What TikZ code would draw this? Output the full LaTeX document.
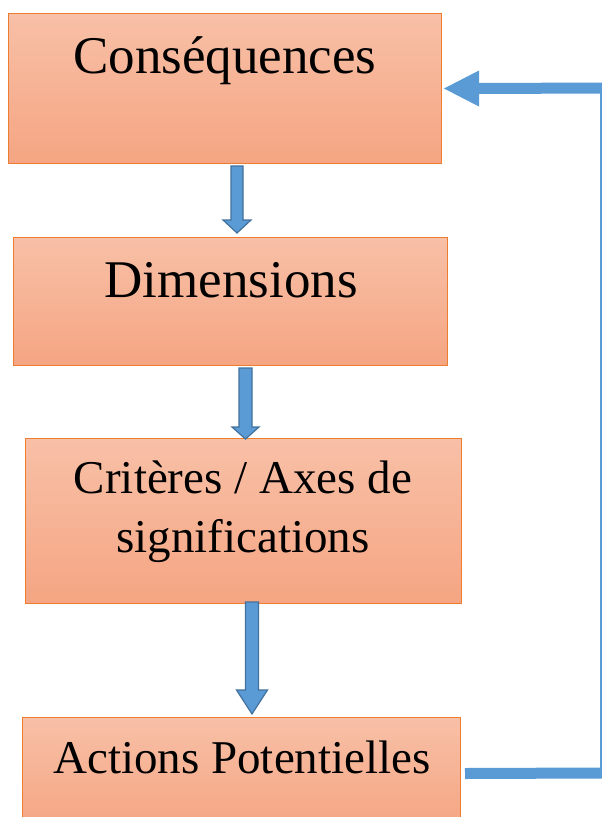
\documentclass[tikz,border=0pt]{standalone}
\usepackage{fontspec}
\setmainfont{Liberation Serif}
\usetikzlibrary{calc}
\definecolor{boxline}{RGB}{237,125,49}
\definecolor{boxtop}{RGB}{248,192,167}
\definecolor{boxbot}{RGB}{245,165,130}
\definecolor{arrfill}{RGB}{91,155,213}
\definecolor{arrline}{RGB}{65,113,156}
\tikzset{
  box/.style={draw=boxline, line width=1pt, top color=boxtop, bottom color=boxbot,
    rectangle, anchor=north west, inner sep=0pt},
  bigtext/.style={font=\fontsize{53}{60}\selectfont, inner sep=0pt, anchor=base},
  midtext/.style={font=\fontsize{47}{59}\selectfont, inner sep=0pt, anchor=base, align=center},
  barrow/.style={fill=arrfill, draw=arrline, line width=1.2pt, line join=miter},
  fbline/.style={draw=arrfill, line width=11pt},
  fbthin/.style={draw=arrfill, line width=1.6pt},
}
\newcommand\blockarrow[5]{%
  \draw[barrow] let \p1=(#1), \p2=(#2) in
    (\x1-#3,\y1) -- (\x1+#3,\y1) -- (\x1+#3,\y2+#5) -- (\x1+#4,\y2+#5)
    -- (\x2,\y2) -- (\x1-#4,\y2+#5) -- (\x1-#3,\y2+#5) -- cycle;}
\begin{document}
\begin{tikzpicture}[x=1pt,y=-1pt]
\clip (0,0) rectangle (602,817);
\fill[white] (0,0) rectangle (602,817);
% boxes
\node[box, minimum width=433pt, minimum height=150pt] (cons) at (8,13) {};
\node[box, minimum width=434pt, minimum height=128pt] (dim) at (13,237) {};
\node[box, minimum width=436pt, minimum height=165pt] (crit) at (25,438) {};
\node[box, minimum width=438pt, minimum height=112pt] (act) at (22,717) {};
% texts
\node[bigtext] (tcons) at (225,73) {Conséquences};
\node[bigtext] (tdim) at (231,297) {Dimensions};
\node[midtext] (tcrit) at (243,552) {Critères / Axes de\\significations};
\node[midtext] (tact) at (242,773) {Actions Potentielles};
% block arrows
\coordinate (a1s) at ($(cons.south west)+(229,2)$);
\coordinate (a1e) at ($(dim.north west)+(224,-4)$);
\blockarrow{a1s}{a1e}{6pt}{14pt}{13pt}
\coordinate (a2s) at ($(dim.south west)+(232.5,2)$);
\coordinate (a2e) at ($(crit.north west)+(220.5,1)$);
\blockarrow{a2s}{a2e}{6.5pt}{13.5pt}{12pt}
\coordinate (a3s) at ($(crit.south west)+(227,-2)$);
\coordinate (a3e) at ($(act.north west)+(230,-3)$);
\blockarrow{a3s}{a3e}{6.5pt}{15.5pt}{24pt}
% feedback connector
\coordinate (fb1) at ($(act.east)+(4,0)$);
\coordinate (fb2) at (601,773);
\coordinate (fb3) at (601,88);
\coordinate (fbh) at ($(cons.east)+(37,0)$);
\draw[fbline] (fb1) -- (fb2 -| 602,0);
\draw[fbthin] (fb2) -- (fb3);
\draw[fbline] (fb3 -| 602,0) -- (fbh);
\fill[arrfill] ($(cons.east)+(2,0)$) -- ($(fbh)+(0,-18)$) -- ($(fbh)+(0,18)$) -- cycle;
\end{tikzpicture}
\end{document}
